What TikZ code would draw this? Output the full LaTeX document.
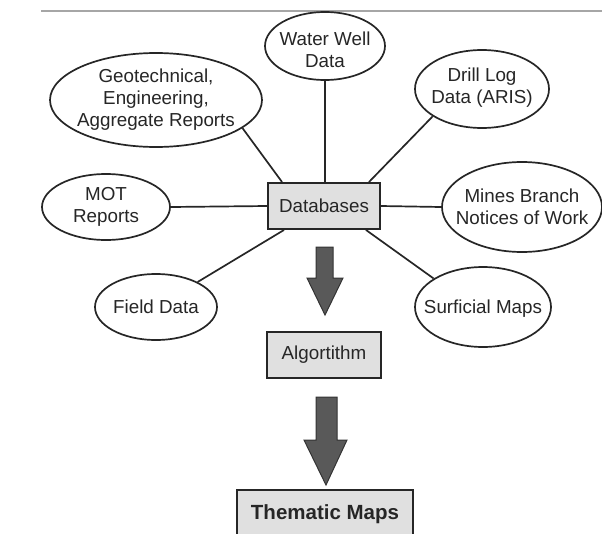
\documentclass[tikz,border=0pt]{standalone}
\usepackage{fontspec}
\setmainfont{Liberation Sans}
\usetikzlibrary{shapes.geometric}
\begin{document}
\begin{tikzpicture}[x=1pt,y=-1pt,
  every node/.style={font=\fontsize{18.8}{22}\selectfont, text=black!85},
  src/.style={ellipse, draw=black!85, line width=1.7pt, inner sep=0pt, fill=white},
  txt/.style={align=center, inner sep=0pt},
  proc/.style={rectangle, draw=black!85, line width=1.9pt, fill=black!12, inner sep=0pt, align=center},
  link/.style={draw=black!85, line width=1.7pt},
  bigarrow/.style={fill=black!65, draw=black!80, line width=1pt}]
\useasboundingbox (0,0) rectangle (602,533);
\draw[black!35, line width=1.8pt] (41,11) -- (602,11);

\node[proc, minimum width=112, minimum height=46] (db) at (324,206) {Databases};
\node[proc, minimum width=114, minimum height=46] (alg) at (324,355) {Algortithm};
\node[proc, minimum width=176, minimum height=48, font=\bfseries\fontsize{20.5}{24}\selectfont] (tm) at (325,514) {Thematic Maps};

\node[src, minimum width=120, minimum height=68, label={[txt, yshift=-4pt]center:Water Well\\Data}] (ww) at (325,46) {};
\node[src, minimum width=212, minimum height=94, label={[txt]center:Geotechnical,\\Engineering,\\Aggregate Reports}] (geo) at (156,100) {};
\node[src, minimum width=134, minimum height=78, label={[txt, yshift=1pt]center:Drill Log\\Data (ARIS)}] (drill) at (482,89) {};
\node[src, minimum width=128, minimum height=66, label={[txt]center:MOT\\Reports}] (mot) at (106,207) {};
\node[src, minimum width=160, minimum height=90, label={[txt]center:Mines Branch\\Notices of Work}] (mines) at (522,207) {};
\node[src, minimum width=122, minimum height=66, label={[txt]center:Field Data}] (field) at (156,307) {};
\node[src, minimum width=136, minimum height=80, label={[txt, yshift=-2pt]center:Surficial Maps}] (surf) at (483,307) {};

\draw[link] (ww.south) -- (ww.south |- db.north);
\draw[link] (geo.-18) -- ([xshift=15pt]db.north west);
\draw[link] (drill.209) -- ([xshift=-12pt]db.north east);
\draw[link] (mot.east) -- (db.west);
\draw[link] (db.east) -- (mines.west);
\draw[link] (field.31) -- ([xshift=17pt]db.south west);
\draw[link] (surf.150) -- ([xshift=-15pt]db.south east);

\draw[bigarrow] (316,247) -- (333,247) -- (333,278) -- (343,278) -- (325,315) -- (307,278) -- (316,278) -- cycle;
\draw[bigarrow] (316,397) -- (337,397) -- (337,440) -- (347,440) -- (326,485) -- (304,440) -- (316,440) -- cycle;
\end{tikzpicture}
\end{document}
